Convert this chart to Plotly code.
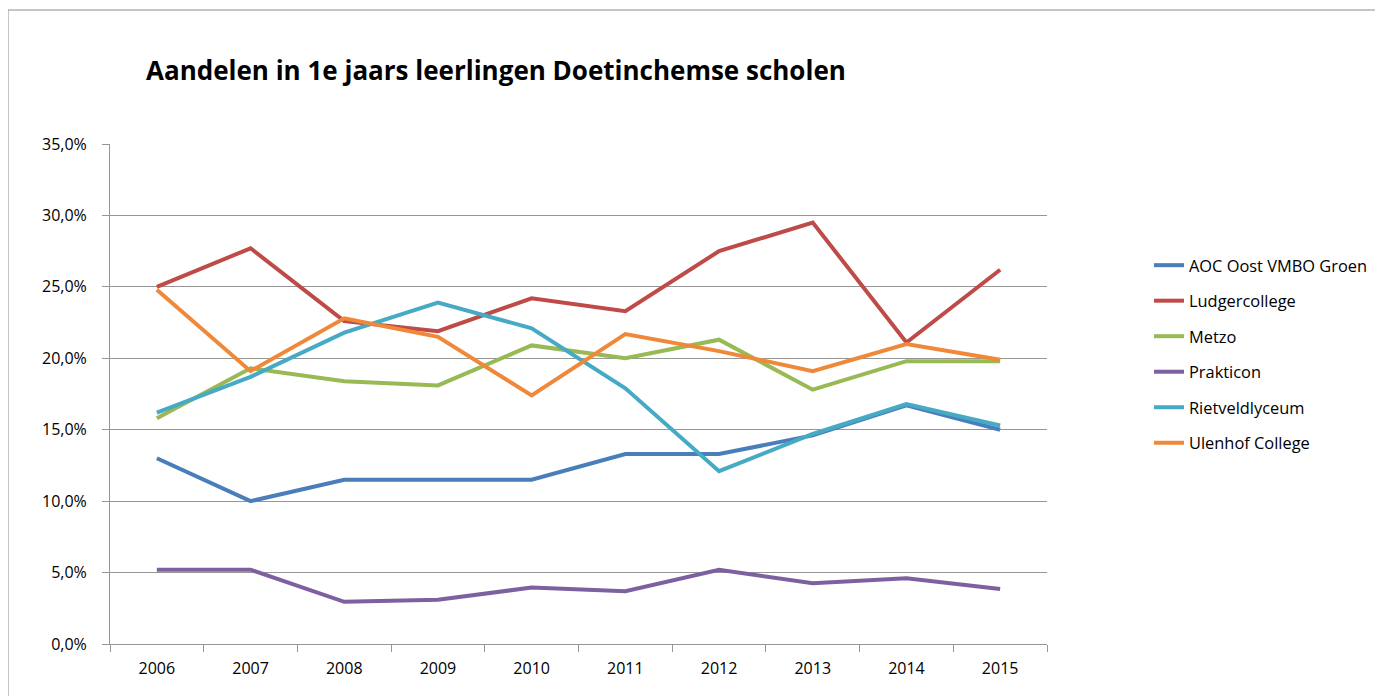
import plotly.graph_objects as go

# Jaren (categorie-as)
years = ["2006", "2007", "2008", "2009", "2010", "2011", "2012", "2013", "2014", "2015"]

aoc_oost = [13.0, 10.0, 11.5, 11.5, 11.5, 13.3, 13.3, 14.6, 16.7, 15.0]
ludgercollege = [25.0, 27.7, 22.6, 21.9, 24.2, 23.3, 27.5, 29.5, 21.1, 26.2]
metzo = [15.8, 19.3, 18.4, 18.1, 20.9, 20.0, 21.3, 17.8, 19.8, 19.8]
prakticon = [5.2, 5.2, 2.95, 3.1, 3.95, 3.7, 5.2, 4.25, 4.6, 3.85]
rietveldlyceum = [16.2, 18.7, 21.8, 23.9, 22.1, 17.9, 12.1, 14.7, 16.8, 15.3]
ulenhof = [24.8, 19.1, 22.8, 21.5, 17.4, 21.7, 20.5, 19.1, 21.0, 19.9]

series = [
    ("AOC Oost VMBO Groen", aoc_oost, "#4A7EBB"),
    ("Ludgercollege", ludgercollege, "#BE4B48"),
    ("Metzo", metzo, "#98B954"),
    ("Prakticon", prakticon, "#7D60A0"),
    ("Rietveldlyceum", rietveldlyceum, "#46AAC5"),
    ("Ulenhof College", ulenhof, "#F0883A"),
]

FONT = "Open Sans, Noto Sans, Liberation Sans, sans-serif"
GRID = "#969696"

fig = go.Figure()
for name, vals, color in series:
    fig.add_trace(go.Scatter(
        x=years, y=[v / 100 for v in vals], name=name, mode="lines",
        line=dict(color=color, width=4), legendgroup=name,
    ))

# page body has an 8px margin, so the figure starts at (8, 8) on screen
OFF = 8
W, H = 1383 - OFF, 696 - OFF
L, R, T, B = 110 - OFF, 1383 - 1047, 144 - OFF, 696 - 644
pw, ph = W - L - R, H - T - B

def px_x(p):
    return (p - OFF - L) / pw

def px_y(p):
    return (H - B - (p - OFF)) / ph

fig.update_layout(
    width=W, height=H,
    margin=dict(l=L, r=R, t=T, b=B, autoexpand=False),
    paper_bgcolor="white", plot_bgcolor="white",
    separators=",.",
    font=dict(family=FONT, size=16, color="#000000"),
    showlegend=True,
    legend=dict(
        x=px_x(1149), xanchor="left", y=px_y(248), yanchor="top",
        font=dict(family=FONT, size=16.4, color="#000000"),
        tracegroupgap=11.2, bgcolor="rgba(0,0,0,0)",
    ),
    annotations=[dict(
        text="<b>Aandelen in 1e jaars leerlingen Doetinchemse scholen</b>",
        xref="paper", yref="paper", x=px_x(144), y=px_y(70),
        xanchor="left", yanchor="middle", showarrow=False,
        font=dict(family=FONT, size=26, color="#000000"),
    )],
    shapes=[dict(
        type="rect", xref="paper", yref="paper",
        x0=px_x(8), x1=px_x(1420), y0=px_y(720), y1=px_y(10),
        line=dict(color="#8C8C8C", width=1), fillcolor="rgba(0,0,0,0)",
        layer="below",
    )],
)

fig.update_xaxes(
    type="category", tickson="boundaries", ticks="outside", ticklen=7,
    tickcolor=GRID, showline=True, linecolor=GRID, linewidth=1,
    showgrid=False, tickfont=dict(family=FONT, size=16),
    ticklabelstandoff=10, range=[-0.5, 9.5], automargin=False,
)
fig.update_yaxes(
    range=[0, 0.35], dtick=0.05, tickformat=".1%", ticks="outside",
    ticklen=7, tickcolor=GRID, showline=True, linecolor=GRID, linewidth=1,
    showgrid=True, gridcolor=GRID, gridwidth=1, zeroline=False,
    tickfont=dict(family=FONT, size=16), ticklabelstandoff=12,
    automargin=False,
)

fig.write_html("out.html")
